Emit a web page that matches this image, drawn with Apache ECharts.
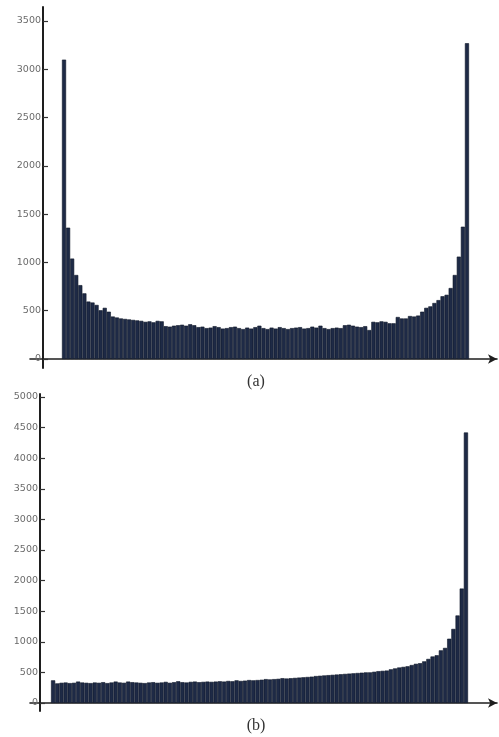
<!DOCTYPE html>
<html><head><meta charset="utf-8">
<script src="https://cdn.jsdelivr.net/npm/echarts@6/dist/echarts.min.js"></script>
<style>html,body{margin:0;padding:0;background:#fff}#c{width:499px;height:737px}</style>
</head><body><div id="c"></div>
<script>
// histogram (a): 100 bins
const histA = [3100,1360,1040,870,765,680,595,585,560,505,
  530,490,440,430,420,415,410,405,400,395,
  385,390,380,395,390,340,335,345,350,355,
  345,360,350,330,335,320,325,340,330,315,
  320,330,335,320,310,325,315,330,345,320,
  310,325,315,330,320,310,320,325,330,315,
  320,335,325,345,320,310,320,325,320,350,
  355,345,335,330,340,300,385,380,390,385,
  370,370,435,420,420,445,440,450,490,530,
  545,580,610,650,665,735,870,1060,1370,3270];
// histogram (b): 100 bins
const histB = [370,320,330,335,325,330,350,335,330,325,
  335,330,340,325,335,350,335,330,350,340,
  335,330,325,335,340,330,335,345,330,340,
  355,340,335,345,350,340,345,350,345,350,
  355,350,360,355,370,360,365,375,370,375,
  380,390,385,390,395,405,400,405,410,415,
  420,425,430,440,445,450,455,460,465,470,
  475,480,485,490,495,500,500,510,520,525,
  530,550,565,580,590,600,620,640,650,680,
  720,760,780,860,900,1050,1210,1430,1870,4420];
const ticksA = [0,500,1000,1500,2000,2500,3000,3500];
const ticksB = [0,500,1000,1500,2000,2500,3000,3500,4000,4500,5000];
const captions = ['(a)', '(b)'];

const toPoints = arr => arr.map((v, i) => [i + 0.5, v]);

const chart = echarts.init(document.getElementById('c'), null, {renderer: 'canvas'});

function yAxisOpt(grid, min, max, ticks, offset) {
  return {
    type: 'value', gridIndex: grid, min: min, max: max, offset: offset,
    axisLine: {show: true, onZero: false, lineStyle: {color: '#1e1e1e', width: 2}},
    axisTick: {show: true, inside: true, length: 5, customValues: ticks, lineStyle: {color: '#333', width: 1.2}},
    axisLabel: {show: true, customValues: ticks, margin: 2, fontFamily: 'DejaVu Sans', fontSize: 9.5,
      color: '#6a6a6a', formatter: v => String(v)},
    splitLine: {show: false}
  };
}
function xAxisOpt(grid, min, max) {
  return {
    type: 'value', gridIndex: grid, min: min, max: max,
    axisLine: {show: true, onZero: true, symbol: ['none', 'arrow'], symbolSize: [7, 9],
      lineStyle: {color: '#1e1e1e', width: 1.6}},
    axisTick: {show: false}, axisLabel: {show: false}, splitLine: {show: false}
  };
}
const barStyle = {color: '#1e2a46', borderColor: '#0e1526', borderWidth: 0.6};

chart.setOption({
  animation: false,
  backgroundColor: '#ffffff',
  grid: [
    {left: 30, right: 2, top: 7, height: 361},
    {left: 30, right: 2, top: 394, height: 317}
  ],
  xAxis: [xAxisOpt(0, -7.86, 106.88), xAxisOpt(1, -5.04, 106.95)],
  yAxis: [yAxisOpt(0, -93, 3645, ticksA, -13), yAxisOpt(1, -131, 5049, ticksB, -10)],
  series: [
    {type: 'bar', xAxisIndex: 0, yAxisIndex: 0, data: toPoints(histA), barWidth: '100%', itemStyle: barStyle},
    {type: 'bar', xAxisIndex: 1, yAxisIndex: 1, data: toPoints(histB), barWidth: '100%', itemStyle: barStyle}
  ],
  graphic: [
    {type: 'text', x: 256, y: 382, style: {text: captions[0], fontFamily: 'Liberation Serif', fontSize: 16,
      fill: '#333', textAlign: 'center', textVerticalAlign: 'middle'}},
    {type: 'text', x: 256, y: 726, style: {text: captions[1], fontFamily: 'Liberation Serif', fontSize: 16,
      fill: '#333', textAlign: 'center', textVerticalAlign: 'middle'}}
  ]
});
</script></body></html>
